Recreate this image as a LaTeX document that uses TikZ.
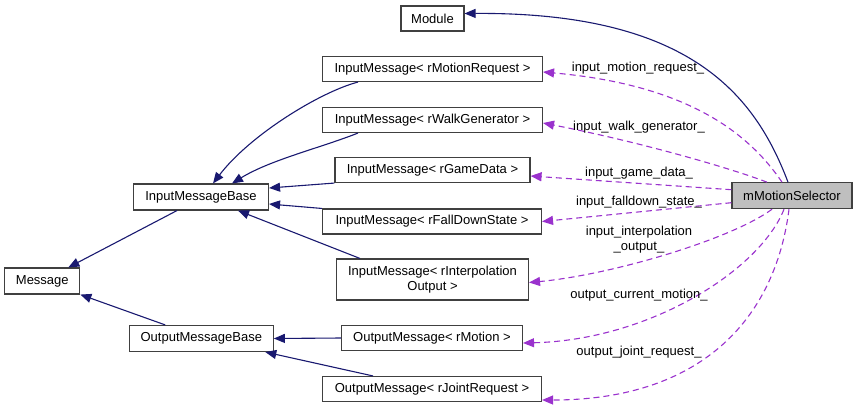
\documentclass[tikz,border=0pt]{standalone}
\usepackage{fontspec}
\setmainfont{Liberation Sans}
\usetikzlibrary{arrows.meta}
\definecolor{navyedge}{HTML}{191970}
\definecolor{purpleedge}{HTML}{9A32CD}
\definecolor{boxborder}{HTML}{404040}
\definecolor{selfill}{HTML}{BFBFBF}
\begin{document}
\begin{tikzpicture}[x=1pt,y=-1pt,
  cls/.style={draw=boxborder,line width=1.1pt,rectangle,inner sep=0pt,align=center,
    font=\fontsize{13}{15}\selectfont,minimum height=25pt},
  lbl/.style={inner sep=0pt,align=center,font=\fontsize{13}{14.5}\selectfont},
  inh/.style={draw=navyedge,line width=1.1pt,-{Triangle[length=11pt,width=9pt]}},
  use/.style={draw=purpleedge,line width=1.1pt,dash pattern=on 6pt off 4pt,
    -{Triangle[length=11pt,width=9pt,fill=purpleedge]}}]
\useasboundingbox (0,0) rectangle (857,408);
% nodes
\node[cls,minimum width=63pt] (mod) at (432.5,18.5) {Module};
\node[cls,minimum width=220pt] (irm) at (432.5,69) {InputMessage< rMotionRequest >};
\node[cls,minimum width=220pt] (iwg) at (432.5,120) {InputMessage< rWalkGenerator >};
\node[cls,minimum width=195pt] (igd) at (432.5,170) {InputMessage< rGameData >};
\node[cls,minimum width=219pt] (ifd) at (432,221.5) {InputMessage< rFallDownState >};
\node[cls,minimum width=192pt,minimum height=41pt] (iio) at (432.5,279.5) {InputMessage< rInterpolation\\Output >};
\node[cls,minimum width=181pt] (omo) at (432,338) {OutputMessage< rMotion >};
\node[cls,minimum width=219pt] (ojr) at (432,389) {OutputMessage< rJointRequest >};
\node[cls,minimum width=135pt,minimum height=26pt] (imb) at (201,197) {InputMessageBase};
\node[cls,minimum width=75pt,minimum height=26pt] (msg) at (42.3,281) {Message};
\node[cls,minimum width=144pt,minimum height=26pt] (omb) at (201.3,338.5) {OutputMessageBase};
\node[cls,minimum width=120pt,minimum height=26pt,fill=selfill] (ms) at (792,195.7) {mMotionSelector};
% inheritance edges
\draw[inh] ([xshift=-4pt]ms.north) .. controls (755,95) and (690,12) .. ([yshift=5pt]mod.east);
\draw[inh] ([xshift=-74.5pt]irm.south) .. controls (320,92) and (250,135) .. ([xshift=12pt]imb.north);
\draw[inh] ([xshift=-74.5pt]iwg.south) .. controls (320,148) and (270,160) .. ([xshift=31pt]imb.north);
\draw[inh] (igd.south west) -- ([yshift=9pt]imb.east);
\draw[inh] (ifd.north west) -- ([yshift=-7pt]imb.east);
\draw[inh] ([xshift=-72.5pt]iio.north) -- ([xshift=37pt]imb.south);
\draw[inh] ([xshift=-24pt]imb.south) -- ([xshift=26pt]msg.north);
\draw[inh] ([xshift=-36pt]omb.north) -- (msg.south east);
\draw[inh] (omo.west) -- (omb.east);
\draw[inh] ([xshift=-59pt]ojr.north) -- ([xshift=64pt]omb.south);
% usage edges
\draw[use] ([xshift=-10pt]ms.north) .. controls (750,135) and (690,85) .. ([yshift=-3pt]irm.east);
\draw[use] ([xshift=-25pt]ms.north) .. controls (730,168) and (640,142) .. ([yshift=-3pt]iwg.east);
\draw[use] ([yshift=6pt]ms.west) -- ([yshift=-6pt]igd.east);
\draw[use] ([yshift=-7pt]ms.west) -- (ifd.east);
\draw[use] ([xshift=-20pt]ms.south) .. controls (730,240) and (610,275) .. ([yshift=-3pt]iio.east);
\draw[use] ([xshift=-8pt]ms.south) .. controls (760,270) and (650,340) .. ([yshift=-5pt]omo.east);
\draw[use] ([xshift=-3pt]ms.south) .. controls (775,320) and (700,400) .. ([yshift=-11pt]ojr.east);
% labels
\node[lbl] (l1) at (638,68) {input\_motion\_request\_};
\node[lbl] (l2) at (639,127) {input\_walk\_generator\_};
\node[lbl] (l3) at (639,173) {input\_game\_data\_};
\node[lbl] (l4) at (639,202) {input\_falldown\_state\_};
\node[lbl] (l5) at (639,239.5) {input\_interpolation\\\_output\_};
\node[lbl] (l6) at (639,295) {output\_current\_motion\_};
\node[lbl] (l7) at (639,352) {output\_joint\_request\_};
\end{tikzpicture}
\end{document}
